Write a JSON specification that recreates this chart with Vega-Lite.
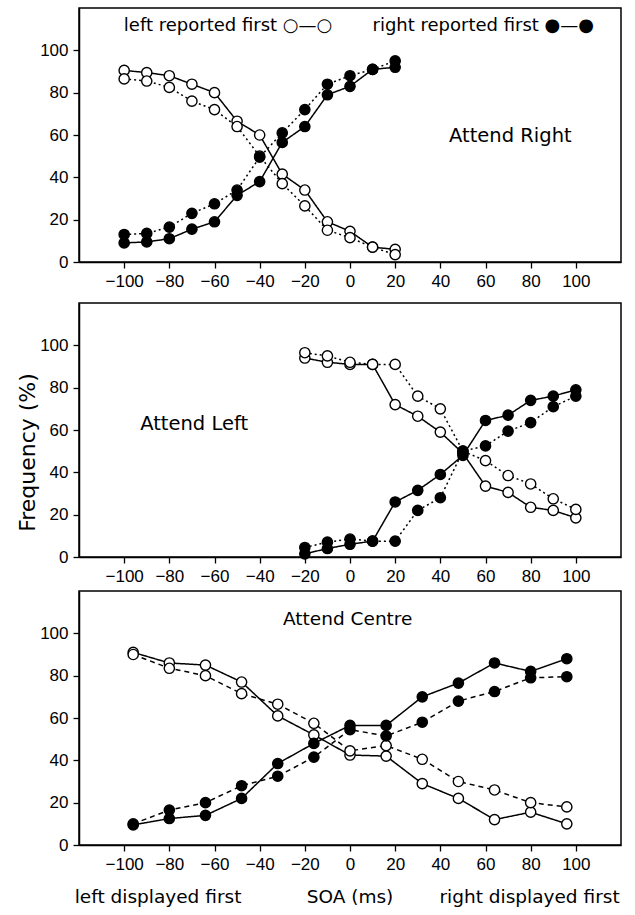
{
  "$schema": "https://vega.github.io/schema/vega-lite/v6.json",
  "background": "white",
  "padding": {"left": 15, "top": 7, "right": 5, "bottom": 5},
  "config": {
    "view": {"stroke": "black", "strokeWidth": 1.5},
    "font": "DejaVu Sans",
    "axis": {
      "labelFont": "Liberation Sans", "labelFontSize": 17, "labelColor": "black",
      "domainColor": "black", "domainWidth": 1.5, "tickColor": "black", "tickWidth": 1.3,
      "tickSize": 6, "labelPadding": 5, "grid": false, "title": null
    }
  },
  "datasets": {
    "pts": [
      {"panel":"R","type":"open","style":"solid","x":-100,"y":90.5},
      {"panel":"R","type":"open","style":"solid","x":-90,"y":89.5},
      {"panel":"R","type":"open","style":"solid","x":-80,"y":88},
      {"panel":"R","type":"open","style":"solid","x":-70,"y":84},
      {"panel":"R","type":"open","style":"solid","x":-60,"y":80},
      {"panel":"R","type":"open","style":"solid","x":-50,"y":66.5},
      {"panel":"R","type":"open","style":"solid","x":-40,"y":60},
      {"panel":"R","type":"open","style":"solid","x":-30,"y":41.5},
      {"panel":"R","type":"open","style":"solid","x":-20,"y":34},
      {"panel":"R","type":"open","style":"solid","x":-10,"y":19},
      {"panel":"R","type":"open","style":"solid","x":0,"y":14.5},
      {"panel":"R","type":"open","style":"solid","x":10,"y":7},
      {"panel":"R","type":"open","style":"solid","x":20,"y":6},
      {"panel":"R","type":"open","style":"dotted","x":-100,"y":86.5},
      {"panel":"R","type":"open","style":"dotted","x":-90,"y":85.5},
      {"panel":"R","type":"open","style":"dotted","x":-80,"y":82.5},
      {"panel":"R","type":"open","style":"dotted","x":-70,"y":76},
      {"panel":"R","type":"open","style":"dotted","x":-60,"y":72},
      {"panel":"R","type":"open","style":"dotted","x":-50,"y":64},
      {"panel":"R","type":"open","style":"dotted","x":-40,"y":50},
      {"panel":"R","type":"open","style":"dotted","x":-30,"y":37},
      {"panel":"R","type":"open","style":"dotted","x":-20,"y":26.5},
      {"panel":"R","type":"open","style":"dotted","x":-10,"y":15},
      {"panel":"R","type":"open","style":"dotted","x":0,"y":11.5},
      {"panel":"R","type":"open","style":"dotted","x":10,"y":7},
      {"panel":"R","type":"open","style":"dotted","x":20,"y":3.5},
      {"panel":"R","type":"filled","style":"solid","x":-100,"y":9},
      {"panel":"R","type":"filled","style":"solid","x":-90,"y":9.5},
      {"panel":"R","type":"filled","style":"solid","x":-80,"y":11},
      {"panel":"R","type":"filled","style":"solid","x":-70,"y":15.5},
      {"panel":"R","type":"filled","style":"solid","x":-60,"y":19},
      {"panel":"R","type":"filled","style":"solid","x":-50,"y":31.5},
      {"panel":"R","type":"filled","style":"solid","x":-40,"y":38},
      {"panel":"R","type":"filled","style":"solid","x":-30,"y":56.5},
      {"panel":"R","type":"filled","style":"solid","x":-20,"y":64},
      {"panel":"R","type":"filled","style":"solid","x":-10,"y":79},
      {"panel":"R","type":"filled","style":"solid","x":0,"y":83},
      {"panel":"R","type":"filled","style":"solid","x":10,"y":91},
      {"panel":"R","type":"filled","style":"solid","x":20,"y":92},
      {"panel":"R","type":"filled","style":"dotted","x":-100,"y":13},
      {"panel":"R","type":"filled","style":"dotted","x":-90,"y":13.5},
      {"panel":"R","type":"filled","style":"dotted","x":-80,"y":16.5},
      {"panel":"R","type":"filled","style":"dotted","x":-70,"y":23},
      {"panel":"R","type":"filled","style":"dotted","x":-60,"y":27.5},
      {"panel":"R","type":"filled","style":"dotted","x":-50,"y":34},
      {"panel":"R","type":"filled","style":"dotted","x":-40,"y":49.5},
      {"panel":"R","type":"filled","style":"dotted","x":-30,"y":61},
      {"panel":"R","type":"filled","style":"dotted","x":-20,"y":72},
      {"panel":"R","type":"filled","style":"dotted","x":-10,"y":84},
      {"panel":"R","type":"filled","style":"dotted","x":0,"y":88},
      {"panel":"R","type":"filled","style":"dotted","x":10,"y":91},
      {"panel":"R","type":"filled","style":"dotted","x":20,"y":95},

      {"panel":"L","type":"open","style":"solid","x":-20,"y":94},
      {"panel":"L","type":"open","style":"solid","x":-10,"y":92},
      {"panel":"L","type":"open","style":"solid","x":0,"y":91},
      {"panel":"L","type":"open","style":"solid","x":10,"y":91},
      {"panel":"L","type":"open","style":"solid","x":20,"y":72},
      {"panel":"L","type":"open","style":"solid","x":30,"y":66.5},
      {"panel":"L","type":"open","style":"solid","x":40,"y":59},
      {"panel":"L","type":"open","style":"solid","x":50,"y":49},
      {"panel":"L","type":"open","style":"solid","x":60,"y":33.5},
      {"panel":"L","type":"open","style":"solid","x":70,"y":30.5},
      {"panel":"L","type":"open","style":"solid","x":80,"y":23.5},
      {"panel":"L","type":"open","style":"solid","x":90,"y":22},
      {"panel":"L","type":"open","style":"solid","x":100,"y":18.5},
      {"panel":"L","type":"open","style":"dotted","x":-20,"y":96.5},
      {"panel":"L","type":"open","style":"dotted","x":-10,"y":95},
      {"panel":"L","type":"open","style":"dotted","x":0,"y":92},
      {"panel":"L","type":"open","style":"dotted","x":10,"y":91},
      {"panel":"L","type":"open","style":"dotted","x":20,"y":91},
      {"panel":"L","type":"open","style":"dotted","x":30,"y":76},
      {"panel":"L","type":"open","style":"dotted","x":40,"y":70},
      {"panel":"L","type":"open","style":"dotted","x":50,"y":50},
      {"panel":"L","type":"open","style":"dotted","x":60,"y":45.5},
      {"panel":"L","type":"open","style":"dotted","x":70,"y":38.5},
      {"panel":"L","type":"open","style":"dotted","x":80,"y":34.5},
      {"panel":"L","type":"open","style":"dotted","x":90,"y":27.5},
      {"panel":"L","type":"open","style":"dotted","x":100,"y":22.5},
      {"panel":"L","type":"filled","style":"solid","x":-20,"y":1.5},
      {"panel":"L","type":"filled","style":"solid","x":-10,"y":4},
      {"panel":"L","type":"filled","style":"solid","x":0,"y":6},
      {"panel":"L","type":"filled","style":"solid","x":10,"y":7.5},
      {"panel":"L","type":"filled","style":"solid","x":20,"y":26},
      {"panel":"L","type":"filled","style":"solid","x":30,"y":31.5},
      {"panel":"L","type":"filled","style":"solid","x":40,"y":39},
      {"panel":"L","type":"filled","style":"solid","x":50,"y":48},
      {"panel":"L","type":"filled","style":"solid","x":60,"y":64.5},
      {"panel":"L","type":"filled","style":"solid","x":70,"y":67},
      {"panel":"L","type":"filled","style":"solid","x":80,"y":74},
      {"panel":"L","type":"filled","style":"solid","x":90,"y":76},
      {"panel":"L","type":"filled","style":"solid","x":100,"y":79},
      {"panel":"L","type":"filled","style":"dotted","x":-20,"y":4.5},
      {"panel":"L","type":"filled","style":"dotted","x":-10,"y":7},
      {"panel":"L","type":"filled","style":"dotted","x":0,"y":8.5},
      {"panel":"L","type":"filled","style":"dotted","x":10,"y":7.5},
      {"panel":"L","type":"filled","style":"dotted","x":20,"y":7.5},
      {"panel":"L","type":"filled","style":"dotted","x":30,"y":22},
      {"panel":"L","type":"filled","style":"dotted","x":40,"y":28},
      {"panel":"L","type":"filled","style":"dotted","x":50,"y":50},
      {"panel":"L","type":"filled","style":"dotted","x":60,"y":52.5},
      {"panel":"L","type":"filled","style":"dotted","x":70,"y":59.5},
      {"panel":"L","type":"filled","style":"dotted","x":80,"y":63.5},
      {"panel":"L","type":"filled","style":"dotted","x":90,"y":71},
      {"panel":"L","type":"filled","style":"dotted","x":100,"y":76},

      {"panel":"C","type":"open","style":"solid","x":-96,"y":91},
      {"panel":"C","type":"open","style":"solid","x":-80,"y":86},
      {"panel":"C","type":"open","style":"solid","x":-64,"y":85},
      {"panel":"C","type":"open","style":"solid","x":-48,"y":77},
      {"panel":"C","type":"open","style":"solid","x":-32,"y":61},
      {"panel":"C","type":"open","style":"solid","x":-16,"y":52},
      {"panel":"C","type":"open","style":"solid","x":0,"y":42.5},
      {"panel":"C","type":"open","style":"solid","x":16,"y":42},
      {"panel":"C","type":"open","style":"solid","x":32,"y":29},
      {"panel":"C","type":"open","style":"solid","x":48,"y":22},
      {"panel":"C","type":"open","style":"solid","x":64,"y":12},
      {"panel":"C","type":"open","style":"solid","x":80,"y":15.5},
      {"panel":"C","type":"open","style":"solid","x":96,"y":10},
      {"panel":"C","type":"open","style":"dashed","x":-96,"y":90},
      {"panel":"C","type":"open","style":"dashed","x":-80,"y":83.5},
      {"panel":"C","type":"open","style":"dashed","x":-64,"y":80},
      {"panel":"C","type":"open","style":"dashed","x":-48,"y":71.5},
      {"panel":"C","type":"open","style":"dashed","x":-32,"y":66.5},
      {"panel":"C","type":"open","style":"dashed","x":-16,"y":57.5},
      {"panel":"C","type":"open","style":"dashed","x":0,"y":44.5},
      {"panel":"C","type":"open","style":"dashed","x":16,"y":47},
      {"panel":"C","type":"open","style":"dashed","x":32,"y":40.5},
      {"panel":"C","type":"open","style":"dashed","x":48,"y":30},
      {"panel":"C","type":"open","style":"dashed","x":64,"y":26},
      {"panel":"C","type":"open","style":"dashed","x":80,"y":20},
      {"panel":"C","type":"open","style":"dashed","x":96,"y":18},
      {"panel":"C","type":"filled","style":"solid","x":-96,"y":9.5},
      {"panel":"C","type":"filled","style":"solid","x":-80,"y":12.5},
      {"panel":"C","type":"filled","style":"solid","x":-64,"y":14},
      {"panel":"C","type":"filled","style":"solid","x":-48,"y":22},
      {"panel":"C","type":"filled","style":"solid","x":-32,"y":38.5},
      {"panel":"C","type":"filled","style":"solid","x":-16,"y":48},
      {"panel":"C","type":"filled","style":"solid","x":0,"y":56.5},
      {"panel":"C","type":"filled","style":"solid","x":16,"y":56.5},
      {"panel":"C","type":"filled","style":"solid","x":32,"y":70},
      {"panel":"C","type":"filled","style":"solid","x":48,"y":76.5},
      {"panel":"C","type":"filled","style":"solid","x":64,"y":86},
      {"panel":"C","type":"filled","style":"solid","x":80,"y":82},
      {"panel":"C","type":"filled","style":"solid","x":96,"y":88},
      {"panel":"C","type":"filled","style":"dashed","x":-96,"y":10},
      {"panel":"C","type":"filled","style":"dashed","x":-80,"y":16.5},
      {"panel":"C","type":"filled","style":"dashed","x":-64,"y":20},
      {"panel":"C","type":"filled","style":"dashed","x":-48,"y":28},
      {"panel":"C","type":"filled","style":"dashed","x":-32,"y":32.5},
      {"panel":"C","type":"filled","style":"dashed","x":-16,"y":41.5},
      {"panel":"C","type":"filled","style":"dashed","x":0,"y":54.5},
      {"panel":"C","type":"filled","style":"dashed","x":16,"y":51.5},
      {"panel":"C","type":"filled","style":"dashed","x":32,"y":58},
      {"panel":"C","type":"filled","style":"dashed","x":48,"y":68},
      {"panel":"C","type":"filled","style":"dashed","x":64,"y":72.5},
      {"panel":"C","type":"filled","style":"dashed","x":80,"y":79},
      {"panel":"C","type":"filled","style":"dashed","x":96,"y":79.5}
    ],
    "txt": [
      {"panel":"R","kind":"legend","x":-54,"y":111.3,"label":"left reported first ○—○"},
      {"panel":"R","kind":"legend","x":59,"y":111.3,"label":"right reported first ●—●"},
      {"panel":"R","kind":"head","x":71,"y":59.4,"label":"Attend Right"},
      {"panel":"L","kind":"head","x":-69,"y":62.7,"label":"Attend Left"},
      {"panel":"C","kind":"head","x":-1,"y":106.6,"label":"Attend Centre"},
      {"panel":"C","kind":"legend","x":-85,"y":-24.5,"label":"left displayed first"},
      {"panel":"C","kind":"legend","x":0,"y":-24.5,"label":"SOA (ms)"},
      {"panel":"C","kind":"legend","x":79.5,"y":-24.5,"label":"right displayed first"}
    ]
  },
  "bounds": "flush",
  "spacing": 41,
  "vconcat": [
    {
      "width": 542, "height": 254,
      "layer": [
        {
          "data": {"name": "pts"},
          "transform": [{"filter": {"field": "panel", "equal": "R"}}],
          "mark": {"type": "line", "color": "black", "strokeWidth": 1.5},
          "encoding": {
            "x": {"field": "x", "type": "quantitative", "scale": {"domain": [-120, 120], "nice": false}, "axis": {"values": [-100,-80,-60,-40,-20,0,20,40,60,80,100]}},
            "y": {"field": "y", "type": "quantitative", "scale": {"domain": [0, 120], "nice": false}, "axis": {"values": [0,20,40,60,80,100]}},
            "detail": {"field": "type"},
            "strokeDash": {"field": "style", "type": "nominal", "scale": {"domain": ["solid", "dotted", "dashed"], "range": [[1, 0], [2, 3], [5, 4]]}, "legend": null}
          }
        },
        {
          "data": {"name": "pts"},
          "transform": [{"filter": {"field": "panel", "equal": "R"}}],
          "mark": {"type": "point", "shape": "circle", "filled": true, "size": 105, "stroke": "black", "strokeWidth": 1.4, "opacity": 1},
          "encoding": {
            "x": {"field": "x", "type": "quantitative"},
            "y": {"field": "y", "type": "quantitative"},
            "fill": {"field": "type", "type": "nominal", "scale": {"domain": ["open", "filled"], "range": ["white", "black"]}, "legend": null}
          }
        },
        {
          "data": {"name": "txt"},
          "transform": [{"filter": {"field": "panel", "equal": "R"}}, {"filter": {"field": "kind", "equal": "legend"}}],
          "mark": {"type": "text", "font": "DejaVu Sans", "fontSize": 18, "color": "black", "align": "center", "baseline": "middle"},
          "encoding": {
            "x": {"field": "x", "type": "quantitative"},
            "y": {"field": "y", "type": "quantitative"},
            "text": {"field": "label"}
          }
        },
        {
          "data": {"name": "txt"},
          "transform": [{"filter": {"field": "panel", "equal": "R"}}, {"filter": {"field": "kind", "equal": "head"}}],
          "mark": {"type": "text", "font": "DejaVu Sans", "fontSize": 19.5, "color": "black", "align": "center", "baseline": "middle"},
          "encoding": {
            "x": {"field": "x", "type": "quantitative"},
            "y": {"field": "y", "type": "quantitative"},
            "text": {"field": "label"}
          }
        }
      ]
    },
    {
      "bounds": "flush",
      "spacing": 34,
      "vconcat": [
        {
          "width": 542, "height": 254,
          "layer": [
            {
              "data": {"name": "pts"},
              "transform": [{"filter": {"field": "panel", "equal": "L"}}],
              "mark": {"type": "line", "color": "black", "strokeWidth": 1.5},
              "encoding": {
                "x": {"field": "x", "type": "quantitative", "scale": {"domain": [-120, 120], "nice": false}, "axis": {"values": [-100,-80,-60,-40,-20,0,20,40,60,80,100]}},
                "y": {"field": "y", "type": "quantitative", "scale": {"domain": [0, 120], "nice": false}, "axis": {"values": [0,20,40,60,80,100], "title": "Frequency (%)", "titleFont": "DejaVu Sans", "titleFontSize": 22, "titleFontWeight": "normal", "titleColor": "black", "titleAngle": 270, "titleAlign": "center", "titleBaseline": "middle", "titleX": -52, "titleY": 149}},
                "detail": {"field": "type"},
                "strokeDash": {"field": "style", "type": "nominal", "scale": {"domain": ["solid", "dotted", "dashed"], "range": [[1, 0], [2, 3], [5, 4]]}, "legend": null}
              }
            },
            {
              "data": {"name": "pts"},
              "transform": [{"filter": {"field": "panel", "equal": "L"}}],
              "mark": {"type": "point", "shape": "circle", "filled": true, "size": 105, "stroke": "black", "strokeWidth": 1.4, "opacity": 1},
              "encoding": {
                "x": {"field": "x", "type": "quantitative"},
                "y": {"field": "y", "type": "quantitative"},
                "fill": {"field": "type", "type": "nominal", "scale": {"domain": ["open", "filled"], "range": ["white", "black"]}, "legend": null}
              }
            },
            {
              "data": {"name": "txt"},
              "transform": [{"filter": {"field": "panel", "equal": "L"}}],
              "mark": {"type": "text", "font": "DejaVu Sans", "fontSize": 19.5, "color": "black", "align": "center", "baseline": "middle"},
              "encoding": {
                "x": {"field": "x", "type": "quantitative"},
                "y": {"field": "y", "type": "quantitative"},
                "text": {"field": "label"}
              }
            }
          ]
        },
        {
          "width": 542, "height": 254,
          "layer": [
            {
              "data": {"name": "pts"},
              "transform": [{"filter": {"field": "panel", "equal": "C"}}],
              "mark": {"type": "line", "color": "black", "strokeWidth": 1.5},
              "encoding": {
                "x": {"field": "x", "type": "quantitative", "scale": {"domain": [-120, 120], "nice": false}, "axis": {"values": [-100,-80,-60,-40,-20,0,20,40,60,80,100]}},
                "y": {"field": "y", "type": "quantitative", "scale": {"domain": [0, 120], "nice": false}, "axis": {"values": [0,20,40,60,80,100]}},
                "detail": {"field": "type"},
                "strokeDash": {"field": "style", "type": "nominal", "scale": {"domain": ["solid", "dotted", "dashed"], "range": [[1, 0], [2, 3], [5, 4]]}, "legend": null}
              }
            },
            {
              "data": {"name": "pts"},
              "transform": [{"filter": {"field": "panel", "equal": "C"}}],
              "mark": {"type": "point", "shape": "circle", "filled": true, "size": 105, "stroke": "black", "strokeWidth": 1.4, "opacity": 1},
              "encoding": {
                "x": {"field": "x", "type": "quantitative"},
                "y": {"field": "y", "type": "quantitative"},
                "fill": {"field": "type", "type": "nominal", "scale": {"domain": ["open", "filled"], "range": ["white", "black"]}, "legend": null}
              }
            },
            {
              "data": {"name": "txt"},
              "transform": [{"filter": {"field": "panel", "equal": "C"}}],
              "mark": {"type": "text", "font": "DejaVu Sans", "fontSize": 18.5, "color": "black", "align": "center", "baseline": "middle"},
              "encoding": {
                "x": {"field": "x", "type": "quantitative"},
                "y": {"field": "y", "type": "quantitative"},
                "text": {"field": "label"}
              }
            }
          ]
        }
      ]
    }
  ]
}
